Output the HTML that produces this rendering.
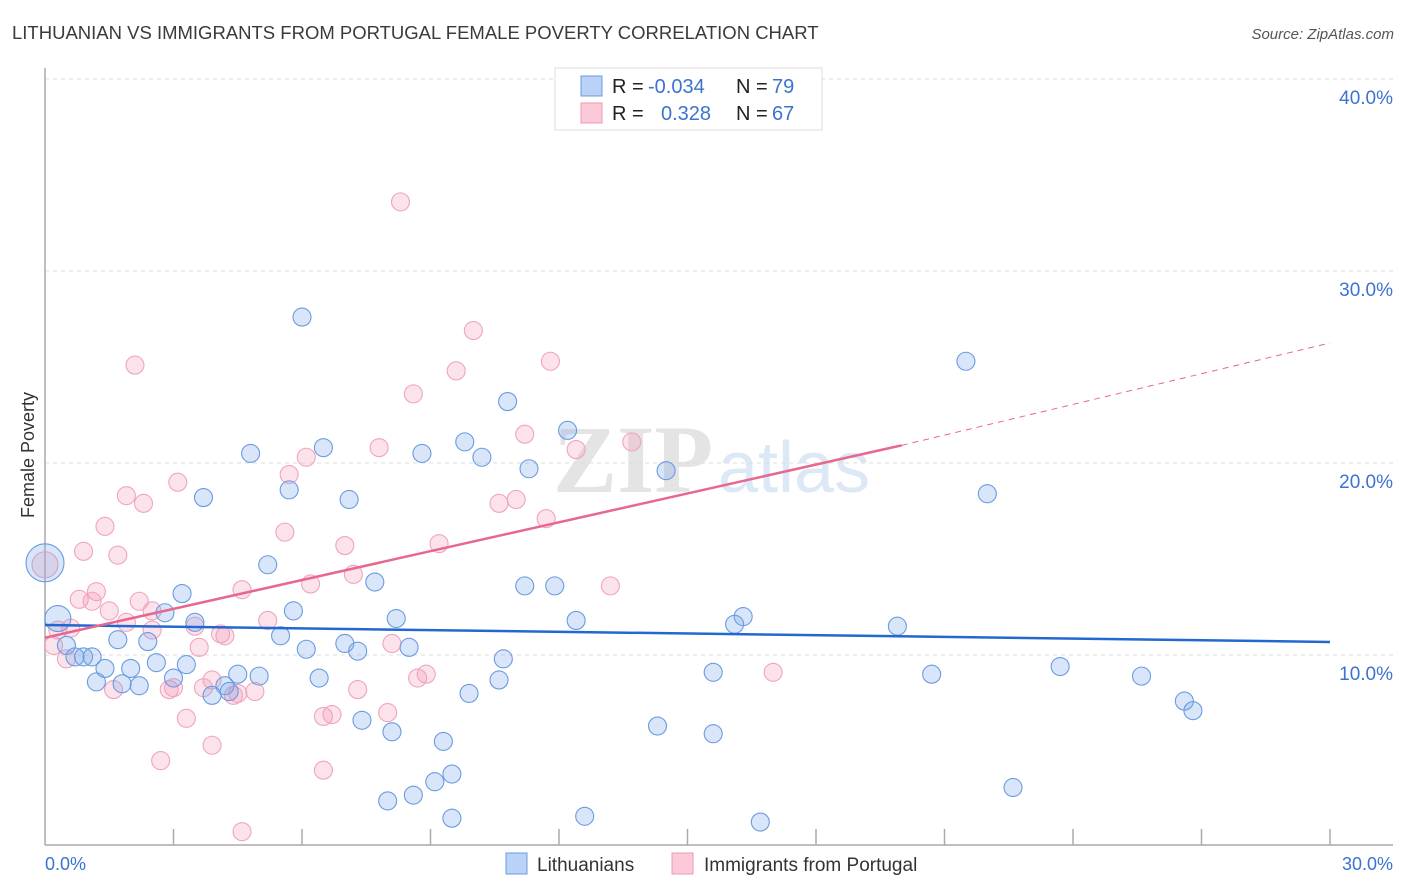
<!DOCTYPE html>
<html><head><meta charset="utf-8"><style>
body{margin:0;background:#fff;font-family:"Liberation Sans",sans-serif}
svg{display:block}
</style></head><body>
<svg id="chart" width="1406" height="892" viewBox="0 0 1406 892" xmlns="http://www.w3.org/2000/svg">
<text x="12" y="39" font-size="18.5" fill="#3a3a3a">LITHUANIAN VS IMMIGRANTS FROM PORTUGAL FEMALE POVERTY CORRELATION CHART</text>
<text x="1394" y="39" font-size="15" fill="#555" font-style="italic" text-anchor="end">Source: ZipAtlas.com</text>
<g>
<text x="553" y="492" font-size="96" font-family="Liberation Serif,serif" fill="#e4e4e4" font-weight="bold">ZIP</text>
<text x="718" y="492" font-size="72" fill="#dde8f6">atlas</text>
</g>
<g id="grid"></g>
<g id="axes"></g>
<g id="pts-pink"></g>
<g id="pts-blue"></g>
<g id="trends"></g>
<text x="34" y="455" font-size="18" fill="#333" text-anchor="middle" transform="rotate(-90 34 455)">Female Poverty</text>
<g>
<rect x="555" y="68" width="267" height="62" fill="#fff" stroke="#ddd"/>
<rect x="581" y="76" width="21" height="20" fill="#b9d2f5" stroke="#6d9be0"/>
<rect x="581" y="103" width="21" height="20" fill="#fbc9d8" stroke="#eb9ab3"/>
<text x="612" y="93" font-size="20" fill="#222">R =</text>
<text x="648" y="93" font-size="20" fill="#3b73d1">-0.034</text>
<text x="736" y="93" font-size="20" fill="#222">N =</text>
<text x="772" y="93" font-size="20" fill="#3b73d1">79</text>
<text x="612" y="120" font-size="20" fill="#222">R =</text>
<text x="661" y="120" font-size="20" fill="#3b73d1">0.328</text>
<text x="736" y="120" font-size="20" fill="#222">N =</text>
<text x="772" y="120" font-size="20" fill="#3b73d1">67</text>
</g>
<g>
<rect x="506" y="853" width="21" height="21" fill="#b9d2f5" stroke="#6d9be0"/>
<text x="537" y="871" font-size="19" fill="#333">Lithuanians</text>
<rect x="672" y="853" width="21" height="21" fill="#fbc9d8" stroke="#eb9ab3"/>
<text x="704" y="871" font-size="19" fill="#333">Immigrants from Portugal</text>
</g>
</svg>
<script>
const yTicks=[10,20,30,40];
const yTickLabels=["10.0%","20.0%","30.0%","40.0%"];
const xTickVals=[3,6,9,12,15,18,21,24,27,30];
const xEndLabels=["0.0%","30.0%"];
const blueX=[6.0,21.5,10.8,12.2,9.8,6.5,4.8,8.8,10.2,11.3,14.5,22.0,3.7,7.1,5.7,5.2,7.7,11.2,11.9,3.2,5.8,2.8,8.2,12.4,16.3,16.1,19.9,3.5,5.5,1.7,2.4,7.0,8.5,6.1,7.3,0.5,0.7,0.9,1.1,1.4,2.0,2.6,3.3,10.7,23.7,15.6,20.7,25.6,4.5,5.0,6.4,3.0,1.2,1.8,2.2,4.2,4.3,3.9,9.9,10.6,26.6,26.8,7.4,8.1,14.3,15.6,9.3,9.5,9.1,22.6,8.6,8.0,12.6,9.5,16.7,0.3,0.0];
const blueY=[27.6,25.3,23.2,21.7,21.1,20.8,20.5,20.5,20.3,19.7,19.6,18.4,18.2,18.1,18.6,14.7,13.8,13.6,13.6,13.2,12.3,12.2,11.9,11.8,12.0,11.6,11.5,11.7,11.0,10.8,10.7,10.6,10.4,10.3,10.2,10.5,9.9,9.9,9.9,9.3,9.3,9.6,9.5,9.8,9.4,9.1,9.0,8.9,9.0,8.9,8.8,8.8,8.6,8.5,8.4,8.4,8.1,7.9,8.0,8.7,7.6,7.1,6.6,6.0,6.3,5.9,5.5,3.8,3.4,3.1,2.7,2.4,1.6,1.5,1.3,11.9,14.8];
const blueR=[9,9,9,9,9,9,9,9,9,9,9,9,9,9,9,9,9,9,9,9,9,9,9,9,9,9,9,9,9,9,9,9,9,9,9,9,9,9,9,9,9,9,9,9,9,9,9,9,9,9,9,9,9,9,9,9,9,9,9,9,9,9,9,9,9,9,9,9,9,9,9,9,9,9,9,13,19];
const pinkX=[8.3,10.0,11.8,2.1,9.6,8.6,11.2,13.7,12.4,7.8,6.1,5.7,3.1,1.9,2.3,11.0,10.6,11.7,1.4,5.6,9.2,7.0,0.9,1.7,0.0,13.2,7.2,6.2,4.6,1.2,0.8,1.1,2.2,1.5,2.5,5.2,1.9,3.5,0.6,0.3,2.5,4.1,4.2,8.1,0.2,3.6,0.5,8.9,8.7,17.0,3.9,2.9,3.7,3.0,1.6,4.5,4.9,7.3,4.4,3.3,6.7,6.5,8.0,3.9,2.7,6.5,4.6];
const pinkY=[33.6,26.9,25.3,25.1,24.8,23.6,21.5,21.1,20.7,20.8,20.3,19.4,19.0,18.3,17.9,18.1,17.9,17.1,16.7,16.4,15.8,15.7,15.4,15.2,14.7,13.6,14.2,13.7,13.4,13.3,12.9,12.8,12.8,12.3,12.3,11.8,11.7,11.5,11.4,11.3,11.3,11.1,11.0,10.6,10.5,10.4,9.8,9.0,8.8,9.1,8.7,8.2,8.3,8.3,8.2,8.0,8.1,8.2,7.9,6.7,6.9,6.8,7.0,5.3,4.5,4.0,0.8];
const blueTrendX=[0,30], blueTrendY=[11.56,10.68];
const pinkTrendX=[0,20.0,30], pinkTrendY=[10.9,20.92,26.25];

const X0=45,X1=1330,Y0=847,PXY=19.2;
const sx=v=>X0+(X1-X0)*v/30;
const sy=v=>Y0-v*PXY;
const NS="http://www.w3.org/2000/svg";
function mk(parent,tag,attrs){const e=document.createElementNS(NS,tag);for(const k in attrs)e.setAttribute(k,attrs[k]);parent.appendChild(e);return e;}
const grid=document.getElementById('grid'),axes=document.getElementById('axes');
yTicks.forEach((t,i)=>{
  const l=mk(grid,'line',{x1:45,x2:1393,y1:sy(t),y2:sy(t),stroke:'#ddd','stroke-dasharray':'4,4'});
  
  
  const tx=mk(axes,'text',{x:1393,y:sy(t)+25,'font-size':19,fill:'#3b73d1','text-anchor':'end'});
  tx.textContent=yTickLabels[i];
  
  
});
const ya=mk(axes,'line',{x1:45,x2:45,y1:68,y2:845,stroke:'#aaa','stroke-width':1.5});


const xa=mk(axes,'line',{x1:45,x2:1393,y1:845,y2:845,stroke:'#aaa','stroke-width':1.5});


xTickVals.forEach(t=>{
  const l=mk(axes,'line',{x1:sx(t),x2:sx(t),y1:829,y2:845,stroke:'#aaa','stroke-width':1.5});
  
  
});
const xl0=mk(axes,'text',{x:45,y:870,'font-size':18,fill:'#3b73d1'});xl0.textContent=xEndLabels[0];


const xl1=mk(axes,'text',{x:1393,y:870,'font-size':18,fill:'#3b73d1','text-anchor':'end'});xl1.textContent=xEndLabels[1];


const gp=document.getElementById('pts-pink');
pinkX.forEach((x,i)=>{
  const c=mk(gp,'circle',{cx:sx(x),cy:sy(pinkY[i]),r:i===24?13:9,fill:'rgba(244,150,180,0.28)',stroke:'#efa5bd','stroke-width':1.1});
  
  
});
const gb=document.getElementById('pts-blue');
blueX.forEach((x,i)=>{
  const c=mk(gb,'circle',{cx:sx(x),cy:sy(blueY[i]),r:blueR[i],fill:'rgba(120,165,235,0.28)',stroke:'#6a9be0','stroke-width':1.1});
  
  
});
const tr=document.getElementById('trends');
const bl=mk(tr,'line',{x1:sx(blueTrendX[0]),y1:sy(blueTrendY[0]),x2:sx(blueTrendX[1]),y2:sy(blueTrendY[1]),stroke:'#2268d0','stroke-width':2.5});


const pl=mk(tr,'line',{x1:sx(pinkTrendX[0]),y1:sy(pinkTrendY[0]),x2:sx(pinkTrendX[1]),y2:sy(pinkTrendY[1]),stroke:'#e8678f','stroke-width':2.5});


const pd=mk(tr,'line',{x1:sx(pinkTrendX[1]),y1:sy(pinkTrendY[1]),x2:sx(pinkTrendX[2]),y2:sy(pinkTrendY[2]),stroke:'#e8678f','stroke-width':1,'stroke-dasharray':'6,5'});


</script>
</body></html>
